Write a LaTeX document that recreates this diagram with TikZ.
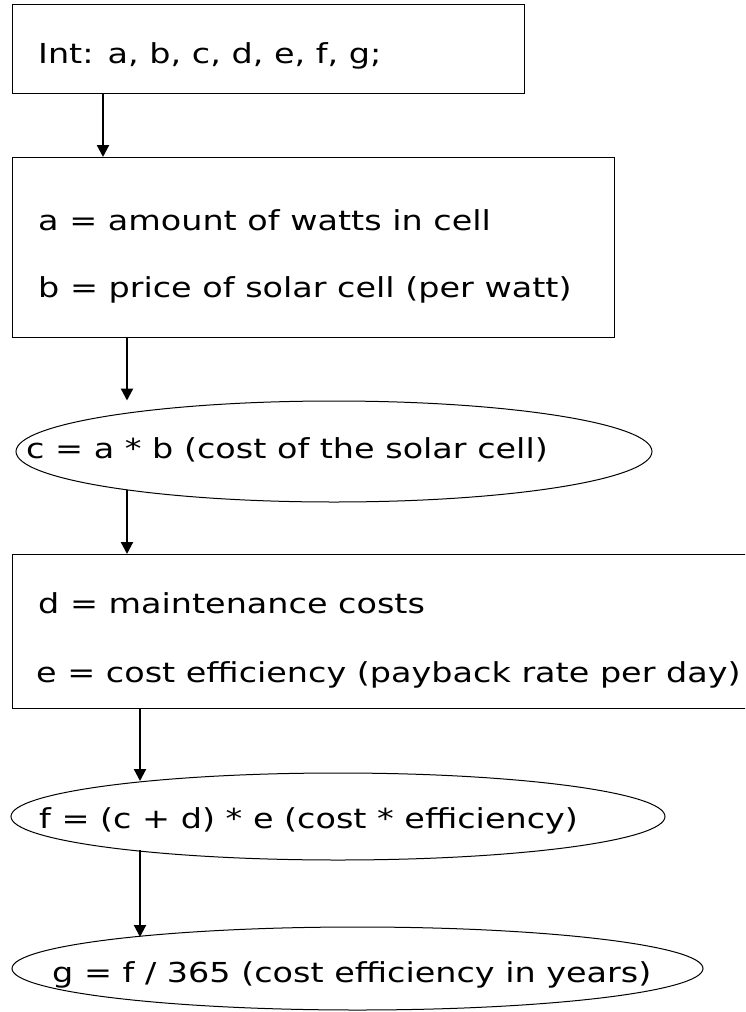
\documentclass[tikz,border=0pt]{standalone}
\usepackage{fontspec}
\newfontfamily\flowfont{DejaVu Sans}[FakeStretch=1.215]
\usetikzlibrary{arrows.meta,shapes.geometric}
\tikzset{
  box/.style={draw=black, line width=1.2pt, rectangle, anchor=north west, inner sep=0pt},
  oval/.style={draw=black, line width=1pt, ellipse, inner sep=0pt},
  txt/.style={anchor=base west, inner sep=0pt, font=\flowfont\fontsize{27.5}{33}\selectfont},
  flow/.style={line width=2.2pt, -{Triangle[length=12pt,width=12pt]}}
}

\begin{document}
\begin{tikzpicture}[x=1pt,y=-1pt]
    \useasboundingbox (0,0) rectangle (745,1012);
    \clip (0,0) rectangle (745,1012);
    \node[box, minimum width=512pt, minimum height=89pt] (vars) at (12,4) {};
    \node[box, minimum width=602pt, minimum height=180pt] (inputs) at (12,157) {};
    \node[oval, minimum width=636pt, minimum height=101pt] (cost) at (334,451.5) {};
    \node[box, minimum width=790pt, minimum height=154pt] (upkeep) at (12,554) {};
    \node[oval, minimum width=654pt, minimum height=87pt] (yield) at (338,816.5) {};
    \node[oval, minimum width=691pt, minimum height=83pt] (years) at (357.5,968.5) {};
    \node[txt] (varsText) at (38,63) {Int: a, b, c, d, e, f, g;};
    \node[txt] (wattText) at (38,230) {a = amount of watts in cell};
    \node[txt] (priceText) at (38,297) {b = price of solar cell (per watt)};
    \node[txt] (costText) at (26,458) {c = a * b (cost of the solar cell)};
    \node[txt] (upkeepText) at (38,613) {d = maintenance costs};
    \node[txt] (rateText) at (36,682) {e = cost efficiency (payback rate per day)};
    \node[txt] (yieldText) at (39,828) {f = (c + d) * e (cost * efficiency)};
    \node[txt] (yearsText) at (52,982) {g = f / 365 (cost efficiency in years)};
    \coordinate (colA) at (103,0);
    \coordinate (colB) at (127,0);
    \coordinate (costOut) at (127,490);
    \coordinate (yieldIn) at (140,781);
    \coordinate (yieldOut) at (140,850);
    \coordinate (yearsIn) at (140,937);
    \draw[flow] (vars.south -| colA) -- (inputs.north -| colA);
    \draw[flow] (inputs.south -| colB) -- (cost.north -| colB);
    \draw[flow] (costOut) -- (upkeep.north -| costOut);
    \draw[flow] (upkeep.south -| yieldIn) -- (yieldIn);
    \draw[flow] (yieldOut) -- (yearsIn);
\end{tikzpicture}
\end{document}
